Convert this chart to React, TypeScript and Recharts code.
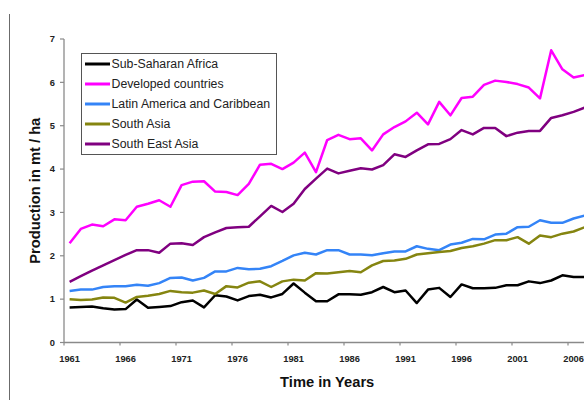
import React from 'react';
import { LineChart, Line, XAxis, YAxis, Legend, Label } from 'recharts';

const years = [
  1961, 1962, 1963, 1964, 1965, 1966, 1967, 1968, 1969, 1970,
  1971, 1972, 1973, 1974, 1975, 1976, 1977, 1978, 1979, 1980,
  1981, 1982, 1983, 1984, 1985, 1986, 1987, 1988, 1989, 1990,
  1991, 1992, 1993, 1994, 1995, 1996, 1997, 1998, 1999, 2000,
  2001, 2002, 2003, 2004, 2005, 2006, 2007,
];

const subSaharanAfrica = [
  0.81, 0.82, 0.83, 0.79, 0.76, 0.77, 0.99, 0.80, 0.82, 0.84,
  0.93, 0.97, 0.81, 1.09, 1.06, 0.97, 1.07, 1.10, 1.04, 1.12,
  1.36, 1.15, 0.95, 0.95, 1.11, 1.11, 1.10, 1.16, 1.28, 1.16,
  1.20, 0.91, 1.22, 1.26, 1.05, 1.34, 1.25, 1.25, 1.26, 1.32,
  1.32, 1.41, 1.37, 1.43, 1.55, 1.51, 1.51,
];

const developedCountries = [
  2.29, 2.62, 2.72, 2.68, 2.84, 2.82, 3.13, 3.20, 3.28, 3.13,
  3.63, 3.71, 3.72, 3.48, 3.47, 3.40, 3.66, 4.10, 4.12, 4.00,
  4.15, 4.38, 3.93, 4.67, 4.79, 4.69, 4.71, 4.43, 4.80, 4.97,
  5.10, 5.30, 5.03, 5.55, 5.24, 5.64, 5.67, 5.94, 6.04, 6.01,
  5.96, 5.88, 5.63, 6.74, 6.30, 6.11, 6.17,
];

const latinAmerica = [
  1.19, 1.22, 1.22, 1.28, 1.30, 1.30, 1.33, 1.31, 1.37, 1.49,
  1.50, 1.43, 1.49, 1.64, 1.64, 1.72, 1.69, 1.70, 1.76, 1.88,
  2.01, 2.07, 2.03, 2.13, 2.13, 2.03, 2.03, 2.01, 2.06, 2.10,
  2.10, 2.22, 2.16, 2.13, 2.26, 2.30, 2.39, 2.38, 2.49, 2.51,
  2.66, 2.67, 2.82, 2.76, 2.76, 2.86, 2.93,
];

const southAsia = [
  1.00, 0.98, 0.99, 1.04, 1.03, 0.92, 1.05, 1.08, 1.12, 1.19,
  1.16, 1.15, 1.20, 1.12, 1.30, 1.27, 1.38, 1.41, 1.28, 1.41,
  1.45, 1.43, 1.60, 1.59, 1.62, 1.65, 1.62, 1.78, 1.88, 1.89,
  1.93, 2.03, 2.06, 2.09, 2.11, 2.18, 2.22, 2.28, 2.36, 2.36,
  2.43, 2.28, 2.47, 2.43, 2.51, 2.56, 2.66,
];

const southEastAsia = [
  1.40, 1.53, 1.66, 1.78, 1.90, 2.02, 2.13, 2.13, 2.07, 2.28,
  2.29, 2.25, 2.43, 2.54, 2.64, 2.66, 2.67, 2.91, 3.15, 3.01,
  3.20, 3.54, 3.78, 4.01, 3.90, 3.96, 4.02, 3.99, 4.09, 4.34,
  4.28, 4.43, 4.57, 4.58, 4.69, 4.90, 4.80, 4.95, 4.95, 4.76,
  4.84, 4.88, 4.88, 5.18, 5.24, 5.32, 5.42,
];

const xTicks = [1961, 1966, 1971, 1976, 1981, 1986, 1991, 1996, 2001, 2006];
const yTicks = [0, 1, 2, 3, 4, 5, 6, 7];
const xDomain: [number, number] = [1960.5, 2007.5];

const seriesDefs = [
  { key: 'ssa', name: 'Sub-Saharan Africa', color: '#000000', values: subSaharanAfrica },
  { key: 'dev', name: 'Developed countries', color: '#ff00ff', values: developedCountries },
  { key: 'lac', name: 'Latin America and Caribbean', color: '#3484f7', values: latinAmerica },
  { key: 'sa', name: 'South Asia', color: '#858510', values: southAsia },
  { key: 'sea', name: 'South East Asia', color: '#800080', values: southEastAsia },
];

const data = years.map((year, i) => {
  const row: Record<string, number> = { year };
  seriesDefs.forEach((s) => {
    row[s.key] = s.values[i];
  });
  return row;
});

const FONT = '"Liberation Sans", Arial, Helvetica, sans-serif';

const XTick = (props: any) => {
  const { x, y, payload, width } = props;
  const half = width / (xDomain[1] - xDomain[0]) / 2;
  return (
    <g>
      <line x1={x - half} x2={x - half} y1={y} y2={y + 3} stroke="#8a8a8a" strokeWidth={1.2} />
      <text
        x={x}
        y={y + 19}
        textAnchor="middle"
        fontFamily={FONT}
        fontWeight="bold"
        fontSize={9.3}
        fill="#222"
      >
        {payload.value}
      </text>
    </g>
  );
};

const seriesOrder = seriesDefs.map((s) => s.name);

const LegendBox = (props: any) => {
  const payload = [...(props.payload || [])].sort(
    (a: any, b: any) => seriesOrder.indexOf(a.value) - seriesOrder.indexOf(b.value)
  );
  return (
    <div
      style={{
        width: 196,
        height: 102,
        boxSizing: 'border-box',
        border: '1px solid #555',
        background: '#fff',
        fontFamily: FONT,
      }}
    >
      {payload.map((p: any) => (
        <div key={p.value} style={{ display: 'flex', alignItems: 'center', height: 20 }}>
          <svg width={28} height={20} style={{ display: 'block' }}>
            <line x1={3} x2={28} y1={10} y2={10} stroke={p.color} strokeWidth={3} />
          </svg>
          <span style={{ fontSize: 12.3, color: '#222', marginLeft: 1.5, whiteSpace: 'nowrap' }}>
            {p.value}
          </span>
        </div>
      ))}
    </div>
  );
};

export default function App() {
  return (
    <div
      style={{
        position: 'absolute',
        left: 0,
        top: 0,
        width: 584,
        height: 400,
        overflow: 'hidden',
        background: '#fff',
      }}
    >
      <div
        style={{
          position: 'absolute',
          left: 8.75,
          top: 14,
          width: 1.5,
          height: 386,
          background: '#6b6b6b',
        }}
      />
      <div style={{ position: 'absolute', left: 0, top: 0, width: 600, height: 400 }}>
        <LineChart
          width={600}
          height={400}
          data={data}
          margin={{ top: 39, right: 9.6, bottom: 0, left: 0 }}
        >
          <XAxis
            dataKey="year"
            type="number"
            domain={xDomain}
            allowDataOverflow={true}
            ticks={xTicks}
            interval={0}
            tick={<XTick />}
            tickLine={false}
            tickSize={0}
            tickMargin={0}
            height={57.5}
            axisLine={{ stroke: '#8a8a8a', strokeWidth: 1.3 }}
          >
            <Label
              value="Time in Years"
              position="insideBottom"
              offset={13.5}
              style={{ fontFamily: FONT, fontWeight: 'bold', fontSize: 14.7, fill: '#111' }}
            />
          </XAxis>
          <YAxis
            type="number"
            domain={[0, 7]}
            allowDataOverflow={true}
            ticks={yTicks}
            interval={0}
            width={64}
            tickSize={4}
            tickMargin={5}
            axisLine={{ stroke: '#8a8a8a', strokeWidth: 1.3 }}
            tickLine={{ stroke: '#8a8a8a', strokeWidth: 1.2 }}
            tick={{ fontFamily: FONT, fontWeight: 'bold', fontSize: 9.3, fill: '#222' }}
          >
            <Label
              value="Production in mt / ha"
              position="center"
              angle={-90}
              dx={2.8}
              style={{ fontFamily: FONT, fontWeight: 'bold', fontSize: 14.7, fill: '#111' }}
            />
          </YAxis>
          <Legend
            layout="vertical"
            align="center"
            verticalAlign="middle"
            itemSorter={null as any}
            content={<LegendBox />}
            wrapperStyle={{ left: 81, top: 53, width: 196, height: 102 }}
          />
          {seriesDefs.map((s) => (
            <Line
              key={s.key}
              type="linear"
              dataKey={s.key}
              name={s.name}
              stroke={s.color}
              strokeWidth={2.5}
              dot={false}
              activeDot={false}
              isAnimationActive={false}
              strokeLinejoin="round"
            />
          ))}
        </LineChart>
      </div>
    </div>
  );
}
